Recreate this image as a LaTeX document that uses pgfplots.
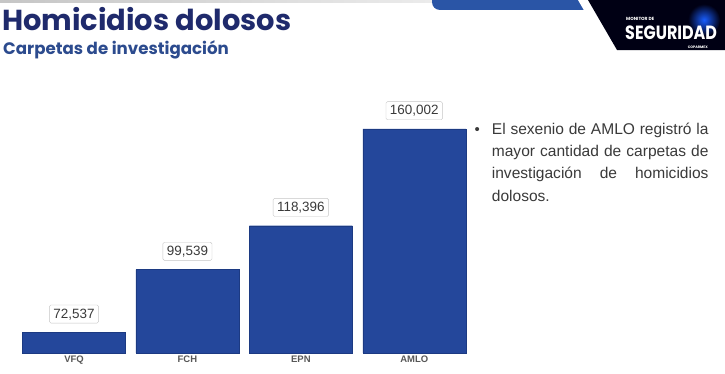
\documentclass[border=0pt]{standalone}
\usepackage{pgfplots}
\pgfplotsset{compat=1.18}
\usepackage{pgfplotstable}
\usepackage{fontspec}
\setmainfont{Liberation Sans}
\newfontfamily\pop{Poppins}
\definecolor{barblue}{HTML}{24479B}
\definecolor{bardark}{HTML}{1C3A82}
\definecolor{titlenavy}{HTML}{1F2A6C}
\definecolor{subblue}{HTML}{2C4B8E}
\definecolor{txtgray}{HTML}{3A3A3A}
\definecolor{stripblue}{HTML}{2A55A6}
\pgfplotstableread{
x y label
0 72537 72,537
1 99539 99,539
2 118396 118,396
3 160002 160,002
}\data
\begin{document}
\begin{tikzpicture}[x=1bp,y=1bp]
\fill[white] (0,0) rectangle (725,373);
% top strips
\shade[left color=gray!45,right color=gray!15] (0,373) rectangle (440,370.5);
\fill[stripblue] (432,373) -- (600,373) -- (600,363) -- (440,363) arc[start angle=270,end angle=180,radius=8] -- cycle;
% logo black area
\fill[white] (578,373) -- (604,373) -- (633,323) -- (607,323) -- cycle;
\fill[black!92!blue] (588,373) -- (725,373) -- (725,323) -- (617,323) -- cycle;
\shade[inner color=blue!70!cyan!90!white,outer color=black!92!blue] (704,353) circle (16);
\node[anchor=base west,inner sep=0,text=white,font=\pop\bfseries\fontsize{4.5}{5}\selectfont] at (626,353) {MONITOR DE};
\node[anchor=base west,inner sep=0,text=white,font=\pop\bfseries\fontsize{16}{18}\selectfont,text depth=0pt] at (625,333.5) {\scalebox{1}[1.2]{SEGURIDAD}};
\node[anchor=base east,inner sep=0,text=white,font=\pop\bfseries\fontsize{3.5}{4}\selectfont] at (708,325) {COPARMEX};
% titles
\node[anchor=base west,inner sep=0,text=titlenavy,font=\pop\bfseries\fontsize{29}{30}\selectfont] at (2,343) {Homicidios dolosos};
\node[anchor=base west,inner sep=0,text=subblue,font=\pop\bfseries\fontsize{16.7}{18}\selectfont] at (3,319) {Carpetas de investigación};
% chart
\begin{axis}[
  at={(17.3bp,20.2bp)}, anchor=south west,
  scale only axis, width=453.7bp, height=250bp,
  xmin=-0.5, xmax=3.5, ymin=63717, ymax=171267,
  axis line style={draw=none}, major tick length=0pt,
  ytick=\empty, xtick=data,
  xticklabels={VFQ,FCH,EPN,AMLO},
  xticklabel style={font=\bfseries\fontsize{9.5}{10}\selectfont, text=txtgray!85, inner sep=0pt, anchor=north, yshift=-3.2bp},
  clip=false,
]
\addplot[ybar, bar width=103bp, fill=barblue, draw=bardark,
  point meta=explicit symbolic, nodes near coords,
  nodes near coords style={anchor=south, yshift=9bp, draw=gray!45, fill=white, rounded corners=1.5pt,
    font=\fontsize{13.5}{14}\selectfont, text=txtgray, inner xsep=4bp, inner ysep=3.5bp, text height=9.6bp, text depth=1.5bp}]
  table[x=x,y=y,meta=label] {\data};
\end{axis}
% bullet text
\node[anchor=base west,inner sep=0,text=txtgray,font=\fontsize{15}{16}\selectfont] at (474.5,238.7) {•};
\begin{scope}[every node/.style={anchor=base west,inner sep=0,text=txtgray,font=\fontsize{15.6}{16}\selectfont}]
\node at (491.7,238.7) {\makebox[216.6bp][s]{El sexenio de AMLO registró la}};
\node at (491.7,216.4) {\makebox[216.6bp][s]{mayor cantidad de carpetas de}};
\node at (491.7,194.1) {\makebox[216.6bp][s]{investigación de homicidios}};
\node at (491.7,171.8) {dolosos.};
\end{scope}
\pgfresetboundingbox
\path (0,0) rectangle (725,373);
\end{tikzpicture}
\end{document}
